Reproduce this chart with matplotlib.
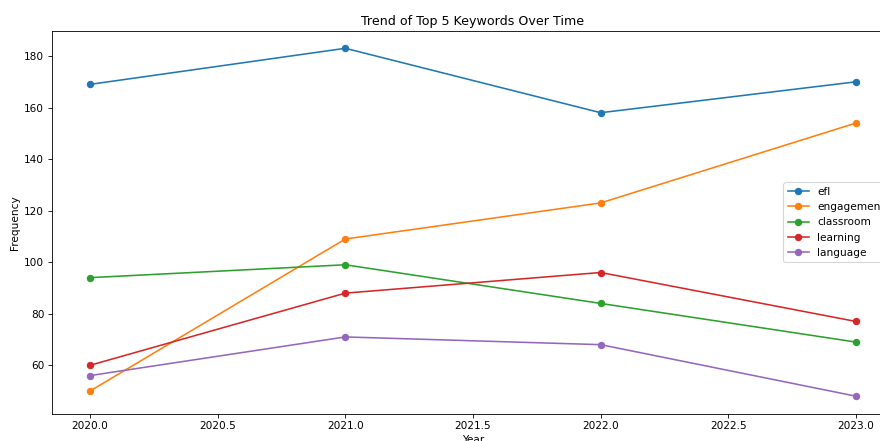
import matplotlib
matplotlib.use("Agg")
import matplotlib.pyplot as plt

# Yearly keyword counts
years = [2020, 2021, 2022, 2023]
keywords = ["efl", "engagement", "classroom", "learning", "language"]
efl = [169, 183, 158, 170]
engagement = [50, 109, 123, 154]
classroom = [94, 99, 84, 69]
learning = [60, 88, 96, 77]
language = [56, 71, 68, 48]

series = [efl, engagement, classroom, learning, language]

W, H = 880, 441
DPI = 76
fig = plt.figure(figsize=(W / DPI, H / DPI), dpi=DPI)
# axes run a little past the right edge of the canvas
ax = fig.add_axes([51.7 / W, 27.4 / H, 842.6 / W, 382.7 / H])

for name, counts in zip(keywords, series):
    ax.plot(years, counts, marker="o", label=name)

ax.set_title("Trend of Top 5 Keywords Over Time")
ax.set_xlabel("Year")
ax.set_ylabel("Frequency")
ax.legend(loc="center right")

fig.savefig("out.png", dpi=DPI)
